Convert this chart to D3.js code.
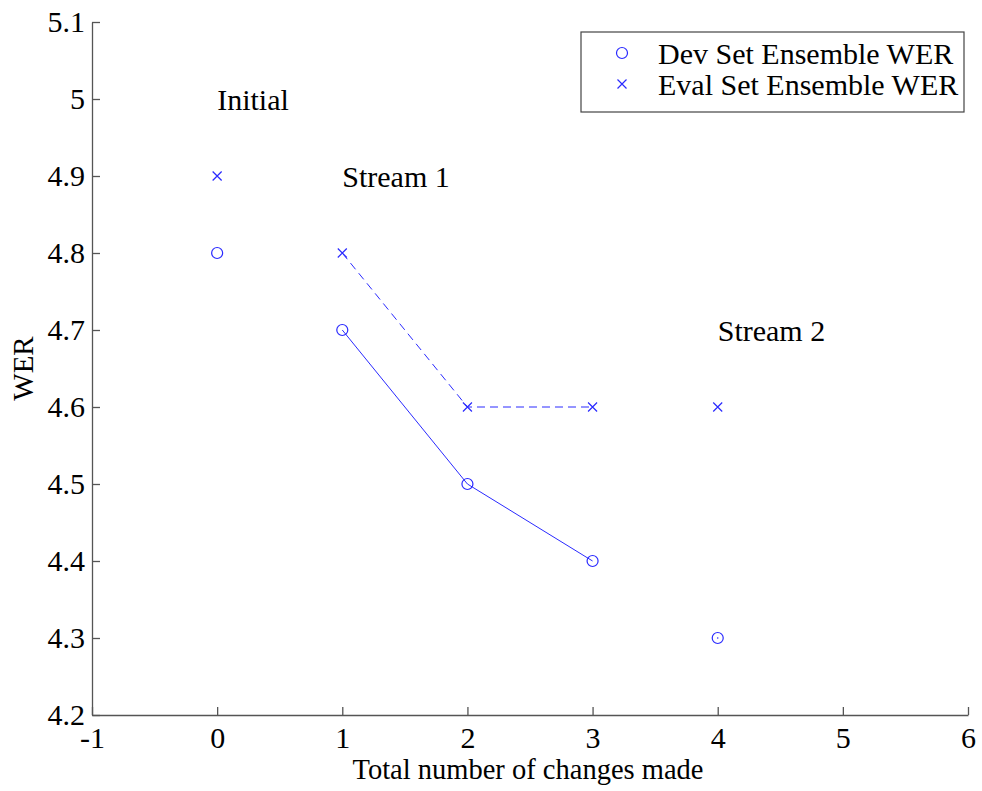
<!DOCTYPE html>
<html>
<head>
<meta charset="utf-8">
<script src="https://cdnjs.cloudflare.com/ajax/libs/d3/7.8.5/d3.min.js"></script>
<style>
body { margin: 0; background: #fff; }
svg text { font-family: "Liberation Serif", "Times New Roman", serif; fill: #000; }
</style>
</head>
<body>
<svg id="chart"></svg>
<script>
const W = 982, H = 791;
const margin = { left: 92, right: 12, top: 22, bottom: 76 };
const FS = 30;

// data
const changes = [0, 1, 2, 3, 4];
const devWER = [4.8, 4.7, 4.5, 4.4, 4.3];
const evalWER = [4.9, 4.8, 4.6, 4.6, 4.6];
const lineIdx = [1, 2, 3];  // points joined by lines
const xTicks = [-1, 0, 1, 2, 3, 4, 5, 6];
const yTicks = [4.2, 4.3, 4.4, 4.5, 4.6, 4.7, 4.8, 4.9, 5.0, 5.1];
const notes = [
  { label: 'Initial', x: 0, y: 5.0 },
  { label: 'Stream 1', x: 1, y: 4.9 },
  { label: 'Stream 2', x: 4, y: 4.7 }
];
const seriesNames = ['Dev Set Ensemble WER', 'Eval Set Ensemble WER'];

const BLUE = '#2a2aff';

const svg = d3.select('#chart').attr('width', W).attr('height', H);

const x = d3.scaleLinear().domain([-1, 6]).range([margin.left, W - margin.right - 2]);
const y = d3.scaleLinear().domain([4.2, 5.1]).range([H - margin.bottom, margin.top]);

// axes (ticks inward)
const xAxis = svg.append('g')
  .attr('transform', `translate(0,${y(4.2)})`)
  .call(d3.axisBottom(x).tickValues(xTicks).tickSizeInner(-8).tickSizeOuter(0).tickPadding(12).tickFormat(d => String(d)));
const yAxis = svg.append('g')
  .attr('transform', `translate(${x(-1)},0)`)
  .call(d3.axisLeft(y).tickValues(yTicks).tickSizeInner(-8).tickSizeOuter(0).tickPadding(7).tickFormat(d => d === 5 ? '5' : d3.format('.1f')(d)));

[xAxis, yAxis].forEach(g => {
  g.attr('font-family', null).attr('font-size', null);
  g.select('.domain').attr('stroke', '#555').attr('stroke-width', 1.3);
  g.selectAll('.tick line').attr('stroke', '#555').attr('stroke-width', 1.3);
  g.selectAll('.tick text')
    .style('font-family', '"Liberation Serif", serif')
    .style('font-size', FS + 'px')
    .attr('fill', '#000');
});

// axis labels
svg.append('text')
  .attr('x', x(2.5) - 2).attr('y', H - 12)
  .attr('text-anchor', 'middle').style('font-size', '28.5px')
  .text('Total number of changes made');
svg.append('text')
  .attr('transform', `translate(33,${y(4.65)}) rotate(-90)`)
  .attr('text-anchor', 'middle').style('font-size', '29px')
  .text('WER');

// lines
const line = d3.line().x(i => x(changes[i]));
svg.append('path')
  .attr('d', line.y(i => y(devWER[i]))(lineIdx))
  .attr('fill', 'none').attr('stroke', BLUE).attr('stroke-width', 1);
svg.append('path')
  .attr('d', line.y(i => y(evalWER[i]))(lineIdx))
  .attr('fill', 'none').attr('stroke', BLUE).attr('stroke-width', 1)
  .attr('stroke-dasharray', '8,5');

// markers
function circleMark(g, cx, cy) {
  g.append('circle').attr('cx', cx).attr('cy', cy).attr('r', 5.5)
    .attr('fill', 'none').attr('stroke', BLUE).attr('stroke-width', 1.2);
}
function crossMark(g, cx, cy) {
  const s = 4.5;
  g.append('path')
    .attr('d', `M${cx - s},${cy - s}L${cx + s},${cy + s}M${cx - s},${cy + s}L${cx + s},${cy - s}`)
    .attr('stroke', BLUE).attr('stroke-width', 1.2).attr('fill', 'none');
}
const marks = svg.append('g');
changes.forEach((c, i) => {
  circleMark(marks, x(c), y(devWER[i]));
  crossMark(marks, x(c), y(evalWER[i]));
});
marks.append('circle').attr('cx', x(changes[4])).attr('cy', y(devWER[4])).attr('r', 0.8).attr('fill', BLUE);

// annotations
svg.selectAll('text.note').data(notes).join('text')
  .attr('class', 'note')
  .attr('x', d => x(d.x)).attr('y', d => y(d.y))
  .attr('dy', '0.35em').style('font-size', FS + 'px')
  .text(d => d.label);

// legend
const lg = svg.append('g').attr('transform', 'translate(581,32)');
lg.append('rect').attr('width', 383).attr('height', 80)
  .attr('fill', '#fff').attr('stroke', '#444').attr('stroke-width', 1.2);
circleMark(lg, 41, 21);
crossMark(lg, 41, 52);
lg.selectAll('text.leg').data(seriesNames).join('text')
  .attr('class', 'leg')
  .attr('x', 77).attr('y', (d, i) => 21 + i * 31)
  .attr('dy', '0.35em').style('font-size', FS + 'px')
  .text(d => d);
</script>
</body>
</html>
